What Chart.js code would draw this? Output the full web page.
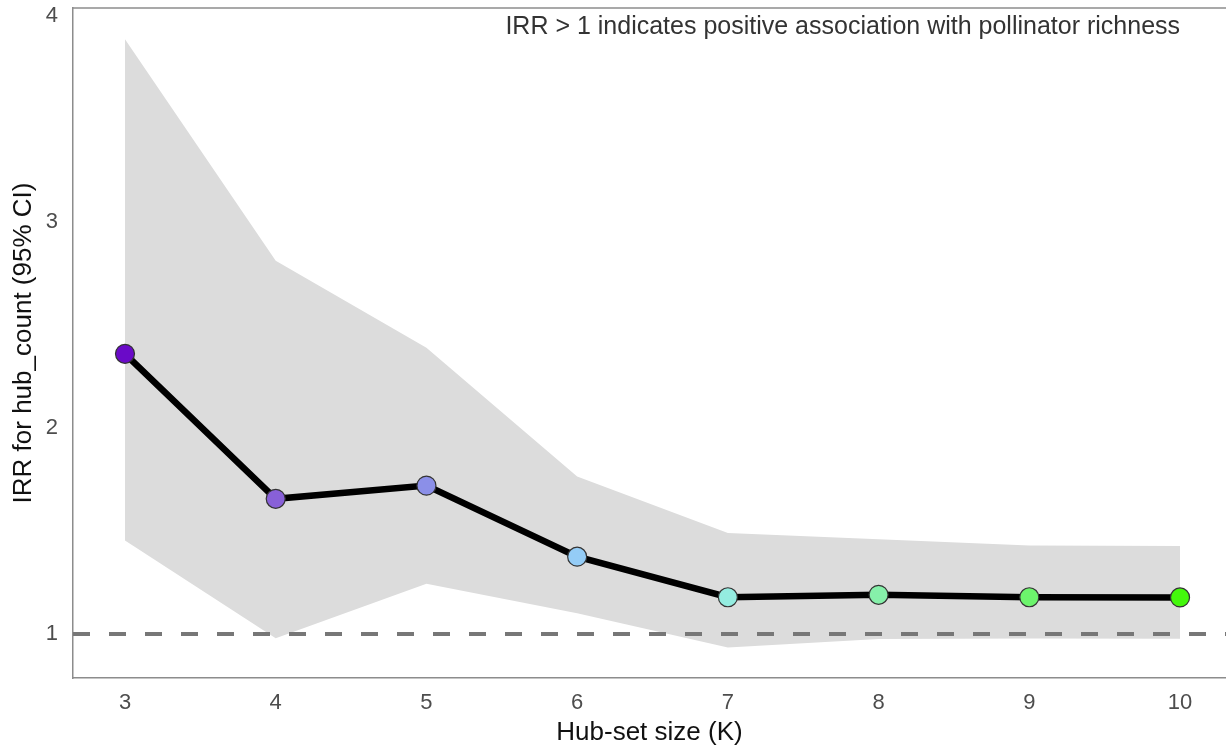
<!DOCTYPE html>
<html>
<head>
<meta charset="utf-8">
<script src="https://cdn.jsdelivr.net/npm/chart.js@4/dist/chart.umd.min.js"></script>
<style>
  html, body { margin: 0; padding: 0; background: #fff; }
  #chart { display: block; }
</style>
</head>
<body>
<canvas id="chart" width="1226" height="748"></canvas>
<script>
  'use strict';

  // Values.
  var hubSizes = [3, 4, 5, 6, 7, 8, 9, 10];
  var irr = [2.36, 1.656, 1.72, 1.375, 1.178, 1.19, 1.178, 1.177];
  var ciUpper = [3.887, 2.812, 2.39, 1.764, 1.49, 1.46, 1.429, 1.427];
  var ciLower = [1.453, 0.979, 1.243, 1.10, 0.934, 0.975, 0.978, 0.976];
  var pointColors = ['#6a0ac8', '#8860d8', '#8b8fe8', '#94ccf6', '#94ece0', '#86f0aa', '#6cf46c', '#44f80c'];
  var xTicks = [3, 4, 5, 6, 7, 8, 9, 10];
  var yTicks = [1, 2, 3, 4];
  var refLine = 1;
  var noteText = 'IRR > 1 indicates positive association with pollinator richness';
  var noteAtX = 10;

  var fontFamily = '"Liberation Sans", Arial, Helvetica, sans-serif';

  function toPoints(values) {
    return hubSizes.map(function (k, i) { return { x: k, y: values[i] }; });
  }

  // Keep the plot panel where the reference has it: no extra label padding.
  function noLabelPadding(scale) {
    scale.paddingTop = 0;
    scale.paddingBottom = 0;
    scale.paddingLeft = 0;
    scale.paddingRight = 0;
  }

  // Reference line, top panel edge and annotation text.
  var extrasPlugin = {
    id: 'extras',
    afterDatasetDraw: function (chart, args) {
      // Draw the dashed line just above the CI band, below the IRR line.
      if (args.index !== 1) {
        return;
      }
      var ctx = chart.ctx;
      var area = chart.chartArea;
      var y = chart.scales.y.getPixelForValue(refLine);
      ctx.save();
      ctx.strokeStyle = '#777777';
      ctx.lineWidth = 4;
      ctx.setLineDash([17, 19]);
      ctx.beginPath();
      ctx.moveTo(area.left, y);
      ctx.lineTo(area.right, y);
      ctx.stroke();
      ctx.restore();
    },
    afterDraw: function (chart) {
      var ctx = chart.ctx;
      var area = chart.chartArea;
      ctx.save();
      ctx.strokeStyle = '#8c8c8c';
      ctx.lineWidth = 1.5;
      ctx.beginPath();
      ctx.moveTo(area.left, area.top);
      ctx.lineTo(area.right, area.top);
      ctx.stroke();

      ctx.fillStyle = '#333333';
      ctx.font = '25px ' + fontFamily;
      ctx.textAlign = 'right';
      ctx.textBaseline = 'middle';
      ctx.fillText(noteText, chart.scales.x.getPixelForValue(noteAtX), area.top + 19);
      ctx.restore();
    }
  };

  var ctx = document.getElementById('chart').getContext('2d');
  var chart = new Chart(ctx, {
    type: 'line',
    data: {
      datasets: [
        {
          label: 'IRR',
          data: toPoints(irr),
          borderColor: '#000000',
          borderWidth: 6.5,
          pointRadius: 9.5,
          pointHoverRadius: 9.5,
          pointBackgroundColor: pointColors,
          pointBorderColor: '#333333',
          pointBorderWidth: 1.2,
          fill: false,
          tension: 0,
          order: 0
        },
        {
          label: 'CI upper',
          data: toPoints(ciUpper),
          borderWidth: 0,
          borderColor: 'rgba(0,0,0,0)',
          backgroundColor: '#dcdcdc',
          pointRadius: 0,
          fill: '+1',
          tension: 0,
          order: 1
        },
        {
          label: 'CI lower',
          data: toPoints(ciLower),
          borderWidth: 0,
          borderColor: 'rgba(0,0,0,0)',
          pointRadius: 0,
          fill: false,
          tension: 0,
          order: 2
        }
      ]
    },
    options: {
      responsive: false,
      animation: false,
      devicePixelRatio: 1,
      layout: { autoPadding: false, padding: { top: 8, right: 0, left: 0, bottom: 0 } },
      plugins: {
        legend: { display: false },
        tooltip: { enabled: false }
      },
      scales: {
        x: {
          type: 'linear',
          min: 2.655,
          max: 10.305,
          grid: { display: false, drawTicks: false },
          border: { display: true, color: '#8c8c8c', width: 1.5 },
          afterBuildTicks: function (scale) {
            scale.ticks = xTicks.map(function (v) { return { value: v }; });
          },
          afterFit: function (scale) {
            scale.height = 70;
            noLabelPadding(scale);
          },
          ticks: {
            color: '#4d4d4d',
            font: { family: fontFamily, size: 22 },
            padding: 12,
            maxRotation: 0
          },
          title: {
            display: true,
            text: 'Hub-set size (K)',
            color: '#111111',
            font: { family: fontFamily, size: 26 },
            padding: { top: 0, bottom: 0 }
          }
        },
        y: {
          type: 'linear',
          min: 0.786,
          max: 4.039,
          grid: { display: false, drawTicks: false },
          border: { display: true, color: '#8c8c8c', width: 1.5 },
          afterBuildTicks: function (scale) {
            scale.ticks = yTicks.map(function (v) { return { value: v }; });
          },
          afterFit: function (scale) {
            scale.width = 73;
            noLabelPadding(scale);
          },
          ticks: {
            color: '#4d4d4d',
            font: { family: fontFamily, size: 22 },
            padding: 15
          },
          title: {
            display: true,
            text: 'IRR for hub_count (95% CI)',
            color: '#111111',
            font: { family: fontFamily, size: 26 },
            padding: { top: 8, bottom: 0 }
          }
        }
      }
    },
    plugins: [extrasPlugin]
  });
</script>
</body>
</html>
